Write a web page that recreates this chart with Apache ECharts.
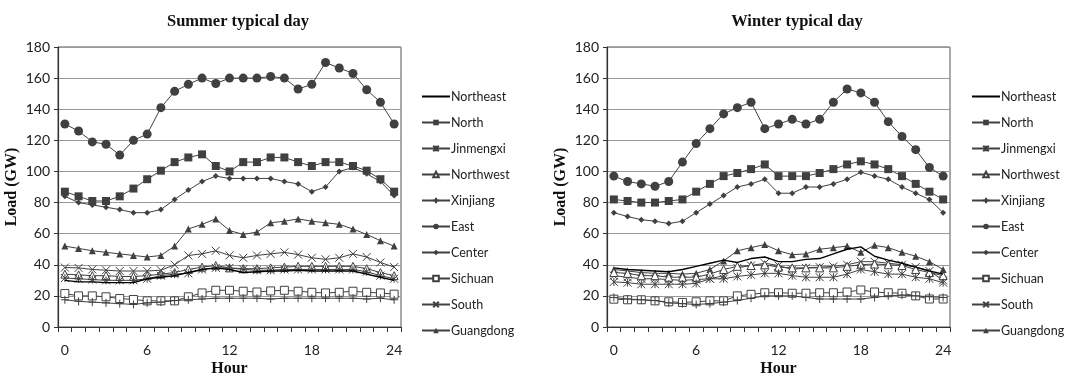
<!DOCTYPE html>
<html>
<head>
<meta charset="utf-8">
<script src="https://cdn.jsdelivr.net/npm/echarts@6/dist/echarts.min.js"></script>
<style>
  html, body { margin: 0; padding: 0; background: #fff; }
  #chart { width: 1067px; height: 377px; }
</style>
</head>
<body>
<div id="chart"></div>
<script>
// hours 0..24
const hours = ["0","1","2","3","4","5","6","7","8","9","10","11","12","13","14","15","16","17","18","19","20","21","22","23","24"];
const regions = ["Northeast", "North", "Jinmengxi", "Northwest", "Xinjiang", "East", "Center", "Sichuan", "South", "Guangdong"];
const panelTitles = ["Summer typical day", "Winter typical day"];
const yTicks = [0, 20, 40, 60, 80, 100, 120, 140, 160, 180];

// summer typical day (GW)
const summerNortheast = [30, 29, 29, 28.5, 28.5, 28.5, 31, 32, 33, 35, 37, 38, 37, 35, 35.5, 36, 36, 36.5, 36, 36, 36, 36, 34, 32, 30];
const summerNorth = [87, 84, 81, 81, 84, 89, 95, 100.5, 106, 109, 111, 103.5, 100, 106, 106, 109, 109, 106, 103.5, 106, 106, 103.5, 100.5, 95, 87];
const summerJinmengxi = [31.5, 31, 30.5, 30, 30, 30, 31, 33, 34, 34.5, 37, 38, 38, 37, 36.5, 36.5, 37, 37, 37, 37, 37, 37, 35.5, 33, 31];
const summerNorthwest = [34, 33.5, 33, 33, 32.5, 32.5, 33, 34, 35, 37, 38.5, 39.5, 38, 37.5, 37.5, 38, 38.5, 39, 39, 39, 39, 39, 37.5, 35, 33];
const summerXinjiang = [17.5, 16.5, 16, 15.5, 15, 14.5, 15.5, 16, 17, 17.5, 18, 18.5, 18.5, 18.5, 18.5, 18, 18.5, 18.5, 18.5, 18.5, 18.5, 18.5, 18, 18.5, 17.5];
const summerEast = [130.5, 126, 119, 117.5, 110.5, 120, 124, 141, 151.5, 156, 160, 156.5, 160, 160, 160, 161, 160, 153, 156, 170, 166.5, 163, 152.5, 144.5, 130.5];
const summerCenter = [84, 80, 78.5, 77, 75.5, 73.5, 73.5, 75.5, 82, 88, 93.5, 97, 95.5, 95.5, 95.5, 95.5, 93.5, 92, 87, 90, 100, 102.5, 98.5, 93.5, 84.5];
const summerSichuan = [21.5, 20, 20, 19.4, 18.3, 17.7, 16.8, 16.8, 16.8, 19.4, 21.9, 23.6, 23.6, 23, 22.5, 23.2, 23.6, 23, 22.3, 21.9, 22.3, 23, 22.3, 21.9, 21.1];
const summerSouth = [38.2, 38, 37, 36.5, 36, 36, 36, 36.5, 40, 46, 47, 49, 46, 44.5, 46, 47, 48, 46.5, 44.5, 43.5, 44.5, 47, 45, 41.5, 38.5];
const summerGuangdong = [52, 50.5, 49, 48, 47, 46, 45, 46, 52, 63, 66, 69.5, 62, 59.5, 61, 67, 68, 69.5, 68, 67, 66, 63, 59.5, 55.5, 52];

// winter typical day (GW)
const winterNortheast = [38, 37, 36.5, 36, 35.5, 37, 39, 41, 43, 41.5, 44, 45, 42, 42, 43.5, 44, 47, 50, 51.5, 45.5, 43, 41, 38.5, 36, 34];
const winterNorth = [82, 81, 80, 80, 81, 82, 87, 92, 97, 99, 101.5, 104.5, 97, 97, 97, 99, 101.5, 104.5, 106.5, 104.5, 101.5, 97, 92, 87, 82];
const winterJinmengxi = [29, 28.5, 27.5, 27.5, 27.5, 27.5, 28, 31, 31, 32.5, 33.5, 34.5, 34.5, 33, 32, 32, 32, 34, 37, 35.5, 34, 34, 32, 31, 28.5];
const winterNorthwest = [35, 34.5, 33, 33, 32, 32, 32, 34, 37, 39, 39.5, 40, 38.5, 38, 38, 38, 38, 39, 40, 40.5, 40, 39.5, 37, 35, 33];
const winterXinjiang = [19, 18, 17.5, 17, 15.5, 15, 14.5, 15, 16, 17, 18.5, 20, 20, 20, 19, 18, 18, 18, 18, 19, 20, 20.5, 20, 19.5, 19];
const winterEast = [97, 93.5, 92, 90.5, 93.5, 106, 118, 127.5, 137, 141, 144.5, 127.5, 130.5, 133.5, 130.5, 133.5, 144.5, 153, 150.5, 144.5, 132, 122.5, 114, 102.5, 97];
const winterCenter = [73.5, 71, 69, 68, 66.5, 68, 73.5, 79, 84.5, 90, 92, 95, 86, 86, 90, 90, 92, 95, 99.5, 97, 95, 90, 86, 82, 73.5];
const winterSichuan = [17.9, 17.5, 17.5, 16.8, 16.2, 15.8, 16.2, 16.8, 16.8, 20, 21, 22, 22, 21.7, 21.7, 22, 22, 22.5, 23.8, 22.5, 22, 21.7, 20, 18, 18];
const winterSouth = [33, 32, 31, 31, 30.5, 30, 30.5, 31, 33, 38, 39.5, 41, 39.5, 37, 38, 38.5, 39, 40, 42, 42, 41, 40, 38.5, 36, 30];
const winterGuangdong = [37, 36, 35, 34.5, 34.5, 34, 34.5, 37, 42.5, 49, 51, 53, 49, 46.5, 47, 50, 51, 52, 48, 52.5, 51, 48, 45.5, 42, 37];

const summerData = [summerNortheast, summerNorth, summerJinmengxi, summerNorthwest, summerXinjiang, summerEast, summerCenter, summerSichuan, summerSouth, summerGuangdong];
const winterData = [winterNortheast, winterNorth, winterJinmengxi, winterNorthwest, winterXinjiang, winterEast, winterCenter, winterSichuan, winterSouth, winterGuangdong];

const gray = "#404040";
const asterisk = "path://M0,0 L10,10 M10,0 L0,10 M5,0 L5,10";
const cross = "path://M0,0 L10,10 M10,0 L0,10";
const plus = "path://M5,0 L5,10 M0,5 L10,5";

// marker look per region
const markers = [
  { symbol: "none", size: 0, fill: "#000", line: "#000", width: 1.4 },
  { symbol: "rect", size: 8, fill: gray, line: gray, width: 1 },
  { symbol: asterisk, size: 8, fill: gray, line: gray, width: 1, stroke: true },
  { symbol: "triangle", size: 8, fill: "#fff", line: gray, width: 1, stroke: true },
  { symbol: plus, size: 8, fill: gray, line: gray, width: 1, stroke: true },
  { symbol: "circle", size: 9, fill: gray, line: gray, width: 1 },
  { symbol: "diamond", size: 6, fill: gray, line: gray, width: 1 },
  { symbol: "rect", size: 8, fill: "#fff", line: gray, width: 1, stroke: true },
  { symbol: cross, size: 8, fill: gray, line: gray, width: 1, stroke: true },
  { symbol: "triangle", size: 7, fill: gray, line: gray, width: 1 }
];

const chart = echarts.init(document.getElementById("chart"));

const gridLefts = [58, 607];
const legendLefts = [421, 971];
const axisText = { fontFamily: "Lato", fontSize: 14, color: "#222" };
const nameText = { fontFamily: "Liberation Serif", fontWeight: "bold", fontSize: 16, color: "#111" };

const series = [];
[summerData, winterData].forEach((panel, p) => {
  panel.forEach((vals, i) => {
    const m = markers[i];
    series.push({
      name: regions[i],
      type: "line",
      xAxisIndex: p,
      yAxisIndex: p,
      data: vals,
      symbol: m.symbol,
      symbolSize: m.size,
      showSymbol: m.symbol !== "none",
      lineStyle: { color: m.line, width: m.width },
      itemStyle: {
        color: m.fill,
        borderColor: m.line,
        borderWidth: m.stroke ? 1 : 0
      },
      emphasis: { disabled: true },
      z: 10 - i
    });
  });
});

const option = {
  backgroundColor: "#fff",
  animation: false,
  title: panelTitles.map((t, p) => ({
    text: t,
    left: p === 0 ? 233 : 792,
    top: 8,
    textAlign: "center",
    textStyle: { fontFamily: "Liberation Serif", fontWeight: "bold", fontSize: 16.5, color: "#111" }
  })),
  legend: [0, 1].map(p => ({
    orient: "vertical",
    left: legendLefts[p],
    top: 90,
    padding: 0,
    itemWidth: 28,
    itemHeight: 7,
    itemGap: 13,
    data: regions.map((r, i) => (i === 0
      ? { name: r, itemStyle: { opacity: 0 } }
      : { name: r })),
    textStyle: { fontFamily: "Lato", fontSize: 12.5, color: "#222", padding: [0, 0, 0, -4], lineHeight: 12 },
    selectedMode: false
  })),
  grid: gridLefts.map(l => ({
    left: l,
    top: 47,
    width: 343,
    height: 280,
    outerBoundsMode: "none",
    containLabel: false,
    show: true,
    borderColor: "#555",
    borderWidth: 1
  })),
  xAxis: [0, 1].map(p => ({
    type: "category",
    gridIndex: p,
    data: hours,
    boundaryGap: true,
    name: "Hour",
    nameLocation: "middle",
    nameGap: 34,
    nameMoveOverlap: false,
    nameTextStyle: nameText,
    axisLine: { lineStyle: { color: "#333", width: 1.2 } },
    axisTick: { show: true, interval: 0, length: 5, lineStyle: { color: "#333" } },
    axisLabel: { interval: 5, margin: 16, ...axisText }
  })),
  yAxis: [0, 1].map(p => ({
    type: "value",
    gridIndex: p,
    min: yTicks[0],
    max: yTicks[yTicks.length - 1],
    interval: 20,
    name: "Load (GW)",
    nameLocation: "middle",
    nameGap: 38,
    nameMoveOverlap: false,
    nameTextStyle: nameText,
    axisLine: { show: true, lineStyle: { color: "#333", width: 1.2 } },
    axisTick: { show: true, length: 4, lineStyle: { color: "#333" } },
    axisLabel: { margin: 8, ...axisText },
    splitLine: { lineStyle: { color: "#999", width: 1 } }
  })),
  series: series
};

chart.setOption(option);
</script>
</body>
</html>
